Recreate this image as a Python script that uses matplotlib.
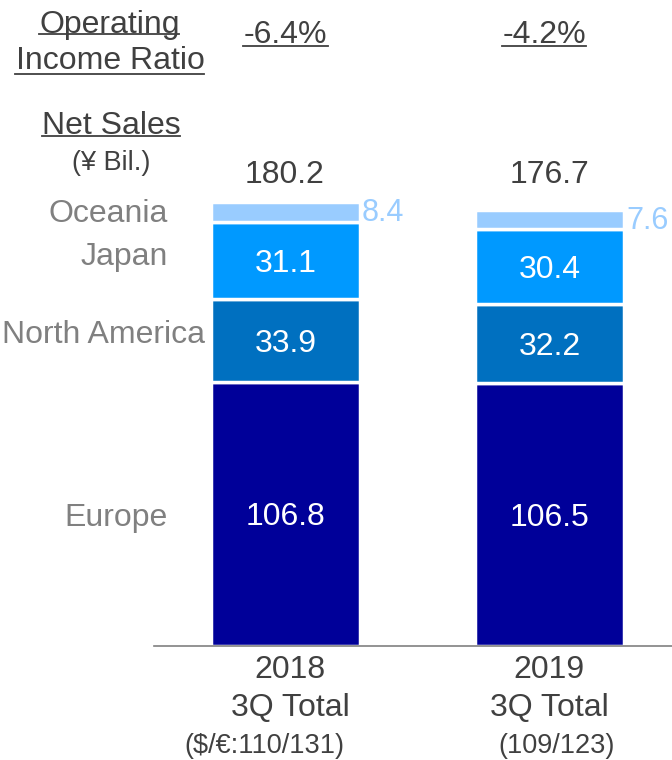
import numpy as np
import matplotlib.pyplot as plt
from matplotlib.lines import Line2D

plt.rcParams['font.family'] = ['Liberation Sans', 'DejaVu Sans']

# Net sales by region (¥ Bil.)
periods = ['2018\n3Q Total', '2019\n3Q Total']
fx_notes = ['($/€:110/131)', '(109/123)']
op_ratio = ['-6.4%', '-4.2%']
regions = ['Europe', 'North America', 'Japan', 'Oceania']
europe = [106.8, 106.5]
north_america = [33.9, 32.2]
japan = [31.1, 30.4]
oceania = [8.4, 7.6]
totals = [180.2, 176.7]

colors = ['#000099', '#0070C0', '#0099FF', '#99CCFF']
dark = '#404040'
grey = '#808080'

W, H = 672, 760
BIG = 23      # main font size
SIDE = 22     # values beside the thin segment
SMALL = 19.5  # notes
fig = plt.figure(figsize=(W / 100, H / 100), dpi=100)


def fx(x):
    return x / W


def fy(y):
    return 1 - y / H


def half_cap(size):
    # half of the cap height, in pixels (Arial-like cap = 0.716 em)
    return 0.716 * size * 100 / 72 / 2


def ptext(x, y, s, size=BIG, color=dark, ha='center'):
    # place text so that its cap centre sits at pixel (x, y)
    fig.text(fx(x), fy(y + half_cap(size)), s, ha=ha, va='baseline',
             color=color, fontsize=size)


# axes: baseline at y=645.5 px, 2.463 px per unit
base = 645.5
scale = 2.463
ax = fig.add_axes([fx(154), fy(base), 1 - fx(154), base / H])
ax.set_xlim(-0.498, 1.464)
ax.set_ylim(0, base / scale)
for s in ['top', 'right', 'left']:
    ax.spines[s].set_visible(False)
ax.spines['bottom'].set_color('#808080')
ax.spines['bottom'].set_linewidth(1.2)
ax.set_xticks([])
ax.set_yticks([])

x = np.arange(len(periods))
width = 0.564
series = [europe, north_america, japan, oceania]
bottom = np.zeros(len(periods))
for i, (vals, c) in enumerate(zip(series, colors)):
    ax.bar(x, vals, width, bottom=bottom, color=c, edgecolor='white',
           linewidth=2.5, clip_on=False)
    for xi, b0, v in zip(x, bottom, vals):
        if i < 3:
            # value inside the segment
            ax.annotate(f'{v:.1f}', (xi, b0 + v / 2),
                        xytext=(0, -half_cap(BIG) * 0.72),
                        textcoords='offset points', ha='center',
                        va='baseline', color='white', fontsize=BIG)
        else:
            # thin Oceania segment: value to the right
            ax.annotate(f'{v:.1f}', (xi + width / 2, b0 + v / 2),
                        xytext=(1.5, -half_cap(SIDE) * 0.72 + 1.5),
                        textcoords='offset points', ha='left',
                        va='baseline', color=c, fontsize=SIDE,
                        annotation_clip=False)
    bottom = bottom + np.array(vals)

# totals above bars
total_x = [285, 549]
for tx, t in zip(total_x, totals):
    ptext(tx, 171.5, f'{t:.1f}')

# region labels to the left of the first bar
label_pos = {'Oceania': (168, 211), 'Japan': (168, 253.5),
             'North America': (205, 332), 'Europe': (168, 515)}
for name in regions:
    lx, ly = label_pos[name]
    ptext(lx, ly, name, color=grey, ha='right')

# headers
ptext(110, 22, 'Operating')
ptext(110, 58, 'Income Ratio')
ptext(111, 122.5, 'Net Sales')
ptext(111, 160, '(¥ Bil.)', size=SMALL)
ratio_x = [285, 544]
for rx, r in zip(ratio_x, op_ratio):
    ptext(rx, 31.5, r)

# underlines
underlines = [(39, 179, 34), (15, 204, 74), (42, 180, 136),
              (243, 328, 46), (502, 586, 46)]
for x0, x1, y in underlines:
    fig.add_artist(Line2D([fx(x0), fx(x1)], [fy(y), fy(y)], color=dark,
                          linewidth=1.3, transform=fig.transFigure))

# period labels under the axis
period_x = [290, 549]
note_x = [264, 557]
for px_, nx, p, n in zip(period_x, note_x, periods, fx_notes):
    y1, y2 = p.split('\n')
    ptext(px_, 667, y1)
    ptext(px_, 705, y2)
    ptext(nx, 743, n, size=SMALL)

fig.savefig('out.png', dpi=100)
